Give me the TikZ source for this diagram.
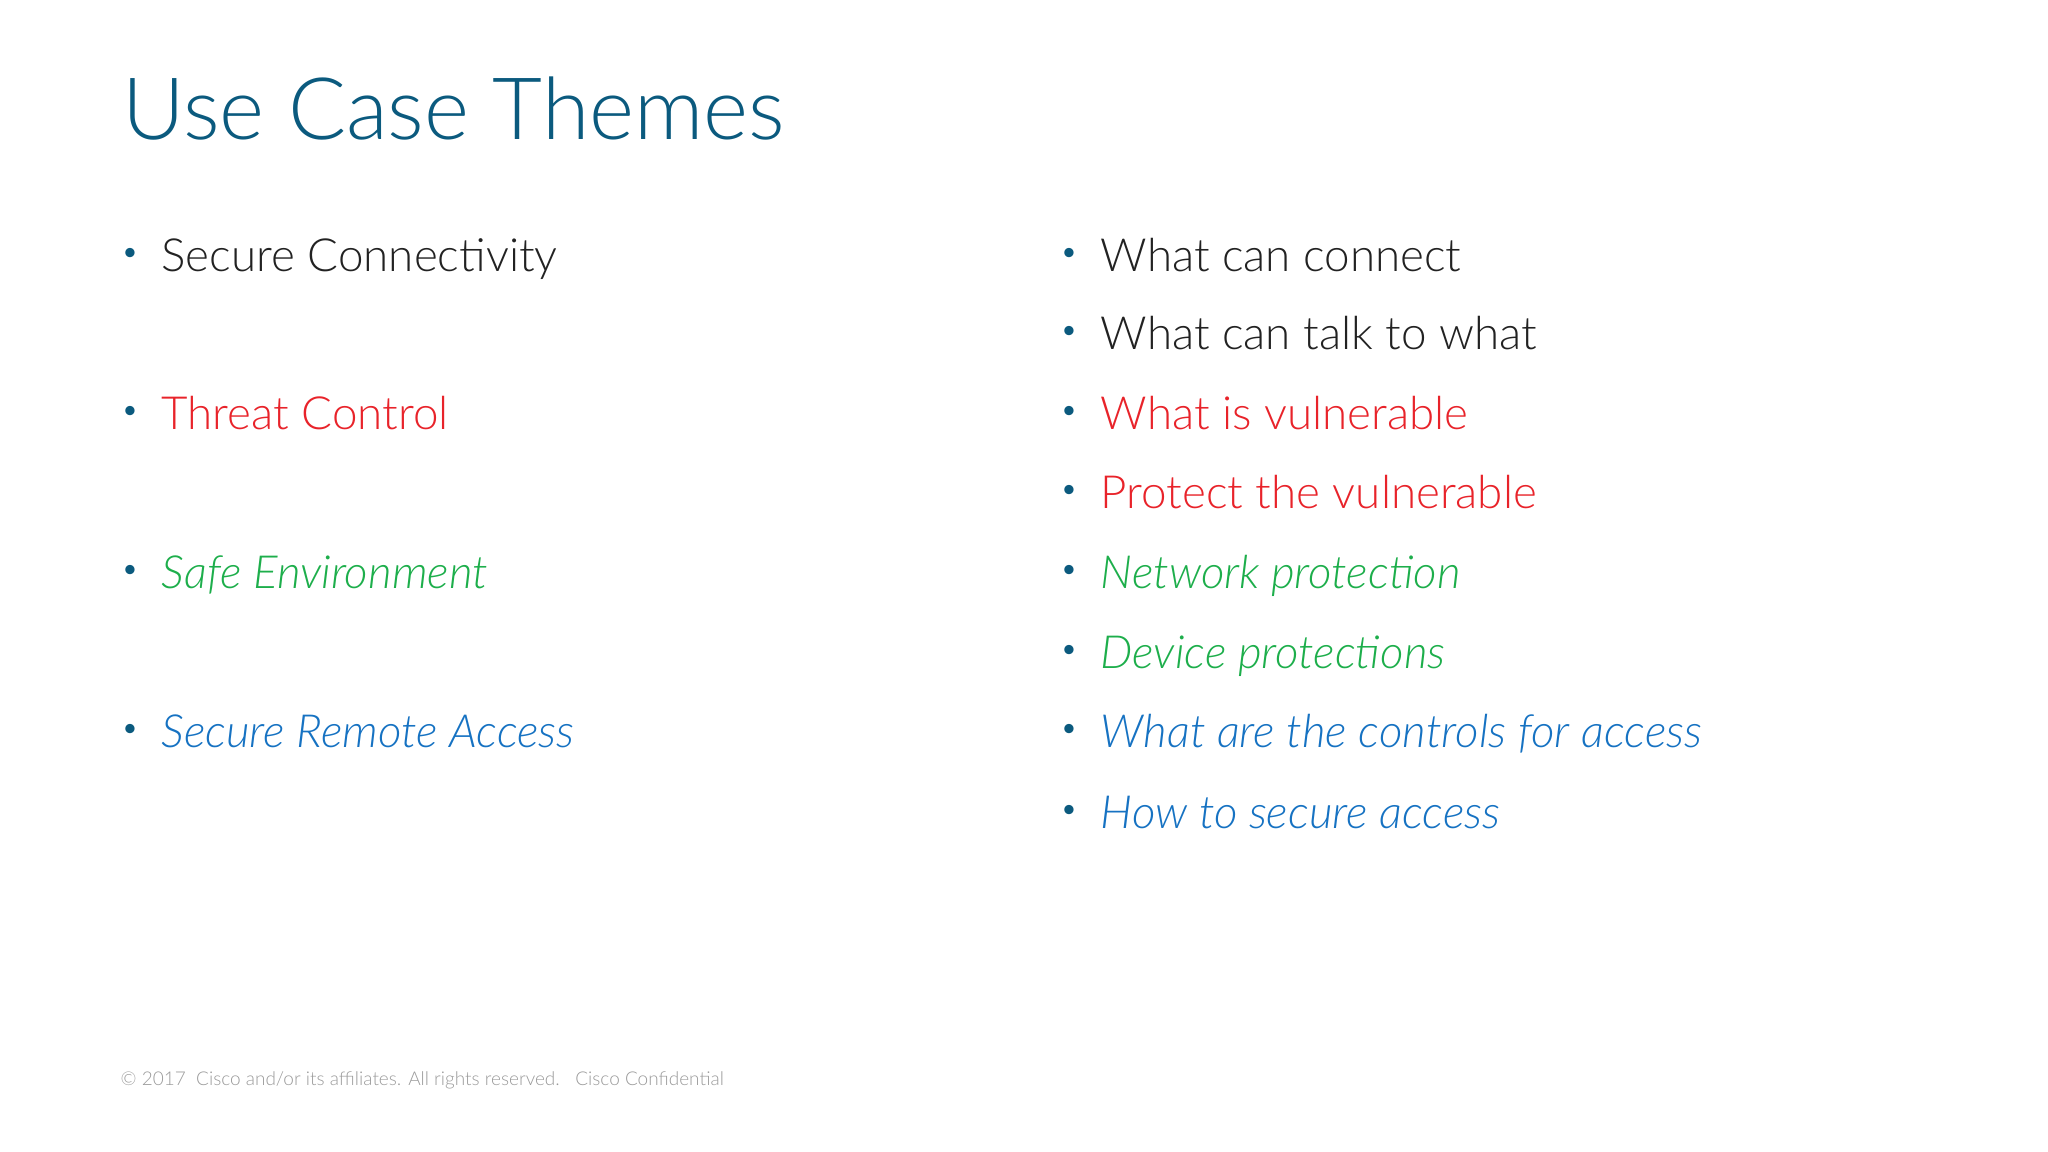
\documentclass[tikz,border=0pt]{standalone}
\usepackage{fontspec}
\setmainfont{Lato Light}[ItalicFont={Lato Light Italic}]
\definecolor{ttl}{HTML}{0B5A7E}
\definecolor{blk}{HTML}{222222}
\definecolor{rd}{HTML}{E8232A}
\definecolor{gr}{HTML}{1DAE4B}
\definecolor{bl}{HTML}{1672C2}
\definecolor{ft}{HTML}{9A9A9A}
\tikzset{
  txt/.style={anchor=base west,inner sep=0pt,font=\fontsize{13}{16}\selectfont},
  bul/.style={inner sep=0pt,text=ttl,font=\fontsize{9}{11}\selectfont},
}
\begin{document}
\begin{tikzpicture}[x=0.01cm,y=-0.01cm]
\useasboundingbox (0,0) rectangle (2048,1151);
\node[anchor=base west,inner sep=0pt,text=ttl,font=\fontsize{24.5}{30}\selectfont] (title) at (122,139) {Use Case Themes};
\foreach \n/\y/\c/\s/\t in {l1/255/blk/\upshape/Secure Connectivity, l2/413/rd/\upshape/Threat Control, l3/572/gr/\itshape/Safe Environment, l4/731/bl/\itshape/Secure Remote Access}{
  \node[bul] (b\n) at (130,\y) {•};
  \node[txt,text=\c] (\n) at (161,\y+16) {\s\t};
}
\foreach \n/\y/\c/\s/\t in {r1/255/blk/\upshape/What can connect, r2/333/blk/\upshape/What can talk to what, r3/413/rd/\upshape/What is vulnerable, r4/492/rd/\upshape/Protect the vulnerable, r5/572/gr/\itshape/Network protection, r6/652/gr/\itshape/Device protections, r7/731/bl/\itshape/What are the controls for access, r8/812/bl/\itshape/How to secure access}{
  \node[bul] (b\n) at (1069,\y) {•};
  \node[txt,text=\c] (\n) at (1100,\y+16) {\s\t};
}
\node[anchor=west,inner sep=0pt,text=ft,font=\fontsize{5.4}{7}\selectfont] (foot) at (120,1080) {© 2017\ \ Cisco and/or its affiliates. All rights reserved.\ \ \ Cisco Confidential};
\end{tikzpicture}
\end{document}
